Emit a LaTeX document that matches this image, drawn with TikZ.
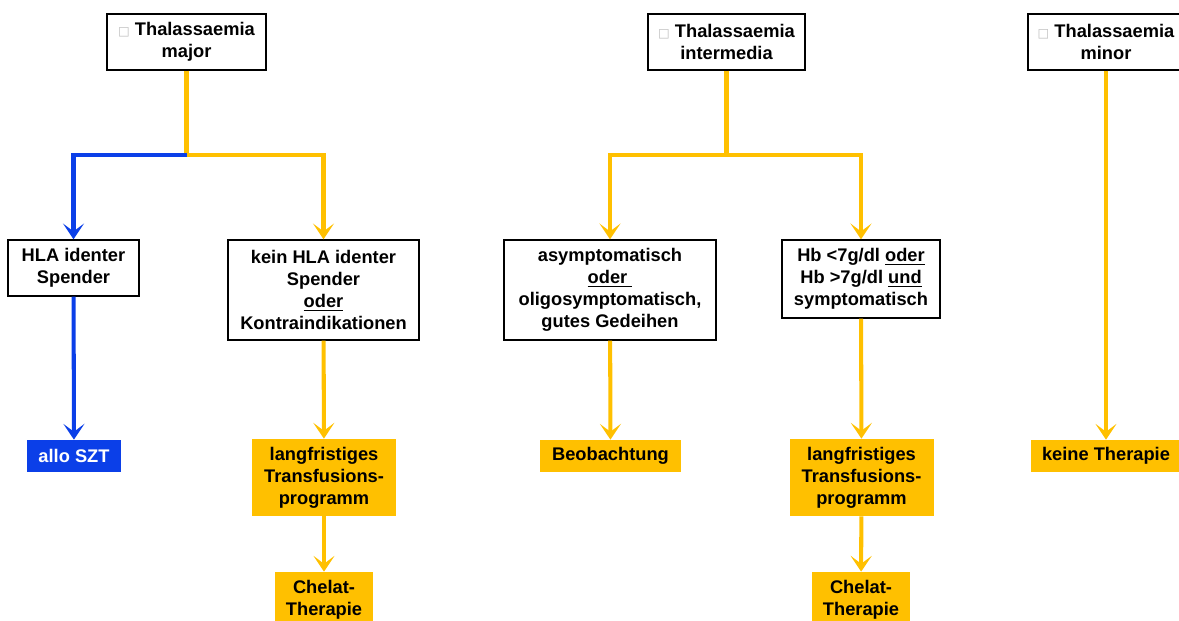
\documentclass[tikz,border=0pt]{standalone}
\usepackage{fontspec}
\setmainfont{Liberation Sans}
\newfontfamily\symfont{DejaVu Sans}
\usetikzlibrary{positioning}
\usetikzlibrary{arrows.meta}
\definecolor{thyellow}{HTML}{FFC000}
\definecolor{thblue}{HTML}{0B3FE8}
\tikzset{
    box/.style = {rectangle, draw=black, line width=0.8pt, fill=white, align=center, inner sep=2pt},
    ybox/.style = {rectangle, fill=thyellow, align=center, inner sep=2pt},
    bbox/.style = {rectangle, fill=thblue, text=white, align=center, inner sep=2pt},
    liney/.style = {line width=2.3pt, thyellow},
    edgey/.style = {-{Stealth[length=9pt,width=12pt,inset=4.5pt]}, line width=2.3pt, thyellow},
    edgeb/.style = {-{Stealth[length=9pt,width=12pt,inset=4.5pt]}, line width=2.3pt, thblue},
    every picture/.style={font issue=\fontsize{10.4}{12.5}\bfseries},
    font issue/.style={execute at begin picture={#1\selectfont}}
}
\newcommand{\Sq}{{\symfont\fontsize{7}{7}\selectfont\textcolor{black!25}{□}}\ }
\begin{document}
\begin{tikzpicture}[x=0.02cm,y=-0.02cm]
\useasboundingbox (0,0) rectangle (1179,620);
% Kopfzeile
\node[box, minimum width=3.18cm, minimum height=1.12cm] at (186.5, 42) (major) {\Sq Thalassaemia\\major};
\node[box, minimum width=3.14cm, minimum height=1.12cm] at (726.5, 42) (inter) {\Sq Thalassaemia\\intermedia};
\node[box, minimum width=3.12cm, minimum height=1.12cm] at (1106, 42) (minor) {\Sq Thalassaemia\\minor};
%
\node[box, minimum width=2.62cm, minimum height=1.12cm] at (73.5, 268) (hla) {HLA identer\\Spender};
\node[box, minimum width=3.82cm, minimum height=2.0cm] at (323.5, 290) (kein) {kein HLA identer\\Spender\\\underline{oder}\\Kontraindikationen};
\node[box, minimum width=4.24cm, minimum height=2.0cm] at (610, 290) (asym) {asymptomatisch\\\underline{oder\ }\\oligosymptomatisch,\\gutes Gedeihen};
\node[box, minimum width=3.16cm, minimum height=1.56cm] at (861, 279) (hb) {Hb <7g/dl \underline{oder}\\Hb >7g/dl \underline{und}\\symptomatisch};
%
\node[bbox, minimum width=1.88cm, minimum height=0.64cm] at (74, 456) (allo) {allo SZT};
\node[ybox, minimum width=2.88cm, minimum height=1.54cm] at (324, 477.5) (langa) {langfristiges\\Transfusions-\\programm};
\node[ybox, minimum width=1.96cm, minimum height=1.12cm] at (324, 600) (chela) {Chelat-\\Therapie};
\node[ybox, minimum width=2.82cm, minimum height=0.64cm] at (610.5, 456) (beob) {Beobachtung};
\node[ybox, minimum width=2.88cm, minimum height=1.54cm] at (861.5, 477.5) (langb) {langfristiges\\Transfusions-\\programm};
\node[ybox, minimum width=1.96cm, minimum height=1.12cm] at (861, 600) (chelb) {Chelat-\\Therapie};
\node[ybox, minimum width=3.0cm, minimum height=0.64cm] at (1106, 456) (keine) {keine Therapie};
%
\coordinate (jmaj) at (186.5, 155);
\coordinate (jint) at (726.5, 155);
\draw[liney] (major) -- (jmaj);
\draw[edgeb] (jmaj) -| (hla);
\draw[edgey] (jmaj) -| (kein);
\draw[edgeb] (hla) -- (allo);
\draw[edgey] (kein) -- (langa);
\draw[edgey] (langa) -- (chela);
%
\draw[liney] (inter) -- (jint);
\draw[edgey] (jint) -| (asym);
\draw[edgey] (jint) -| (hb);
\draw[edgey] (asym) -- (beob);
\draw[edgey] (hb) -- (langb);
\draw[edgey] (langb) -- (chelb);
%
\draw[edgey] (minor) -- (keine);
\end{tikzpicture}
\end{document}
